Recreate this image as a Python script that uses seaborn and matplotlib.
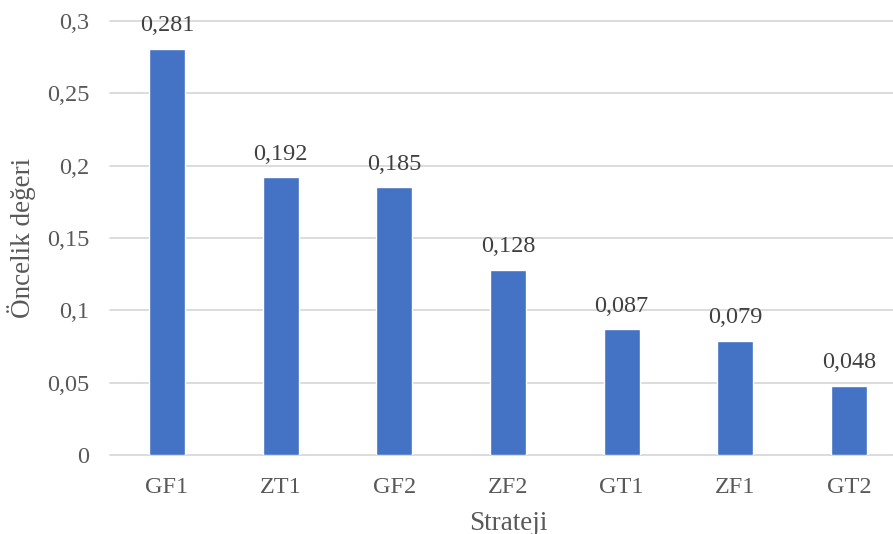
import matplotlib
matplotlib.use("Agg")
import matplotlib.pyplot as plt
import seaborn as sns
import pandas as pd

categories = ["GF1", "ZT1", "GF2", "ZF2", "GT1", "ZF1", "GT2"]
values = [0.281, 0.192, 0.185, 0.128, 0.087, 0.079, 0.048]
y_ticks = [0, 0.05, 0.1, 0.15, 0.2, 0.25, 0.3]
y_tick_labels = ["0", "0,05", "0,1", "0,15", "0,2", "0,25", "0,3"]

sns.set_theme(style="white")
plt.rcParams["font.family"] = ["Liberation Serif", "DejaVu Serif"]

df = pd.DataFrame({"Strateji": categories, "value": values})

fig = plt.figure(figsize=(8.93, 5.34), dpi=100)
ax = fig.add_axes([110 / 893, 79 / 534, 796 / 893, 433.8 / 534])

text_color = "#595959"
grid_color = "#d9d9d9"

sns.barplot(data=df, x="Strateji", y="value", color="#4472C4", saturation=1,
            width=0.316, ax=ax, zorder=3)

ax.set_ylim(0, 0.3)
ax.set_xlim(-0.5, len(categories) - 0.5)
ax.set_yticks(y_ticks)
ax.set_yticklabels(y_tick_labels)
for y in y_ticks:
    ax.axhline(y, color=grid_color, linewidth=1.3, zorder=1, clip_on=False)

for s in ax.spines.values():
    s.set_visible(False)

ax.tick_params(axis="both", length=0, labelsize=17.5, colors=text_color)
ax.tick_params(axis="y", pad=15)
ax.tick_params(axis="x", pad=16)

ax.set_xlabel("Strateji", fontsize=19.5, color=text_color, labelpad=9)
ax.set_ylabel("Öncelik değeri", fontsize=19.5, color=text_color, labelpad=8)

labels = [f"{v:.3f}".replace(".", ",") for v in values]
ax.bar_label(ax.containers[0], labels=labels, padding=9, fontsize=17.5,
             color="#404040")

fig.savefig("out.png", dpi=100)
